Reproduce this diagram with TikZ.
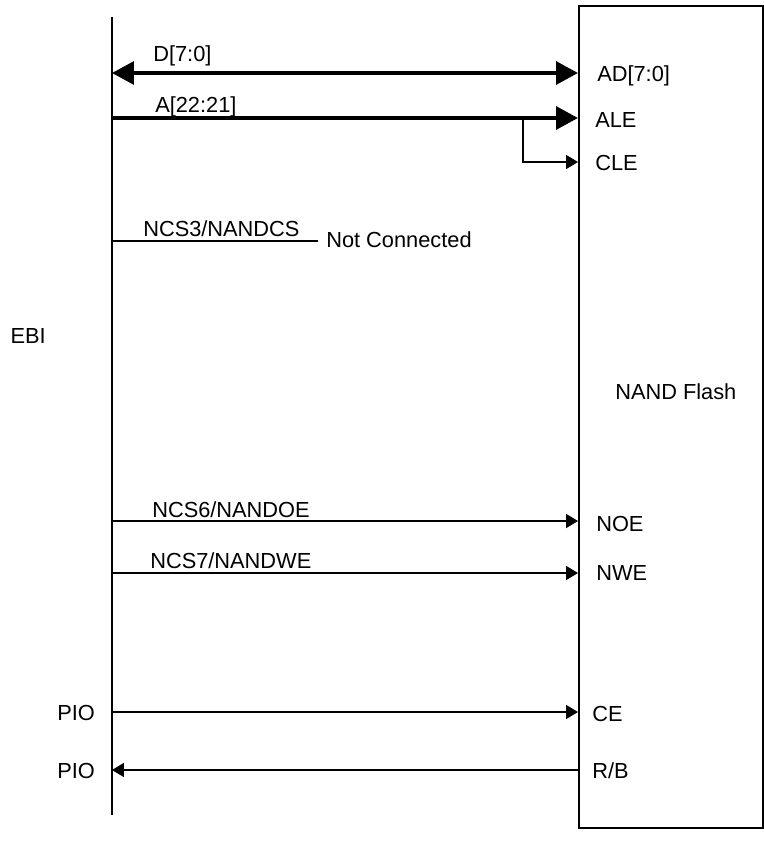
\documentclass[tikz,border=0pt]{standalone}
\usepackage{fontspec}
\setmainfont{Liberation Sans}
\usetikzlibrary{arrows.meta,positioning}

\tikzset{
  bus/.style={line width=2.9pt},
  sig/.style={line width=1pt},
  bigtip/.tip={Triangle[length=15.5pt,width=16pt]},
  smalltip/.tip={Triangle[length=8.5pt,width=10pt]},
  lbl/.style={inner sep=0pt,font=\fontsize{15.5}{18}\selectfont}
}

\begin{document}
\begin{tikzpicture}[x=0.025cm,y=-0.025cm]
\useasboundingbox (0,0) rectangle (763,841);

% EBI side bus line
\coordinate (ebitop) at (112,17);
\coordinate (ebibot) at (112,815);
\draw[line width=2pt] (ebitop) -- (ebibot);
\node[lbl, anchor=base east] (ebi) at (46,343) {EBI};

% NAND Flash device
\node[draw, line width=1.4pt, anchor=north west, inner sep=0pt,
  minimum width=4.6cm, minimum height=20.55cm] (nand) at (578,5) {};
\node[lbl, anchor=base west] (nandlbl) at (615,399) {NAND Flash};

% pins on the device and on the bus
\foreach \n/\y in {ad/73,ale/118,cle/162,noe/521,nwe/573,ce/712,rb/770}
  \coordinate (\n) at (578,\y);
\foreach \n/\y in {bd/73,ba/118,bcs/241,boe/521,bwe/573,bce/712,brb/770}
  \coordinate (\n) at (112,\y);
\coordinate (split) at (523,118);
\coordinate (ncend) at (318,241);

% device pin names
\node[lbl, anchor=base west] (adlbl) at (597,81) {AD[7:0]};
\node[lbl, anchor=base west] (alelbl) at (595,128) {ALE};
\node[lbl, anchor=base west] (clelbl) at (595,170) {CLE};
\node[lbl, anchor=base west] (noelbl) at (596,531) {NOE};
\node[lbl, anchor=base west] (nwelbl) at (596,580) {NWE};
\node[lbl, anchor=base west] (celbl) at (592,721) {CE};
\node[lbl, anchor=base west] (rblbl) at (592,778) {R/B};

% signal names
\node[lbl, anchor=base west] (dlbl) at (153,62) {D[7:0]};
\node[lbl, anchor=base west] (albl) at (155,112) {A[22:21]};
\node[lbl, anchor=base west] (cslbl) at (143,236) {NCS3/NANDCS};
\node[lbl, anchor=base west] (nc) at (326,247) {Not Connected};
\node[lbl, anchor=base west] (oelbl) at (152,517) {NCS6/NANDOE};
\node[lbl, anchor=base west] (welbl) at (150,568) {NCS7/NANDWE};
\node[lbl, anchor=base west] (pio1) at (57,720) {PIO};
\node[lbl, anchor=base west] (pio2) at (57,778) {PIO};

% connections
\draw[bus, bigtip-bigtip] (bd) -- (ad);
\draw[bus, -bigtip] (ba) -- (ale);
\draw[sig, -smalltip] (split) |- (cle);
\draw[sig] (bcs) -- (ncend);
\draw[sig, -smalltip] (boe) -- (noe);
\draw[sig, -smalltip] (bwe) -- (nwe);
\draw[sig, -smalltip] (bce) -- (ce);
\draw[sig, -smalltip] (rb) -- (brb);

\end{tikzpicture}
\end{document}
